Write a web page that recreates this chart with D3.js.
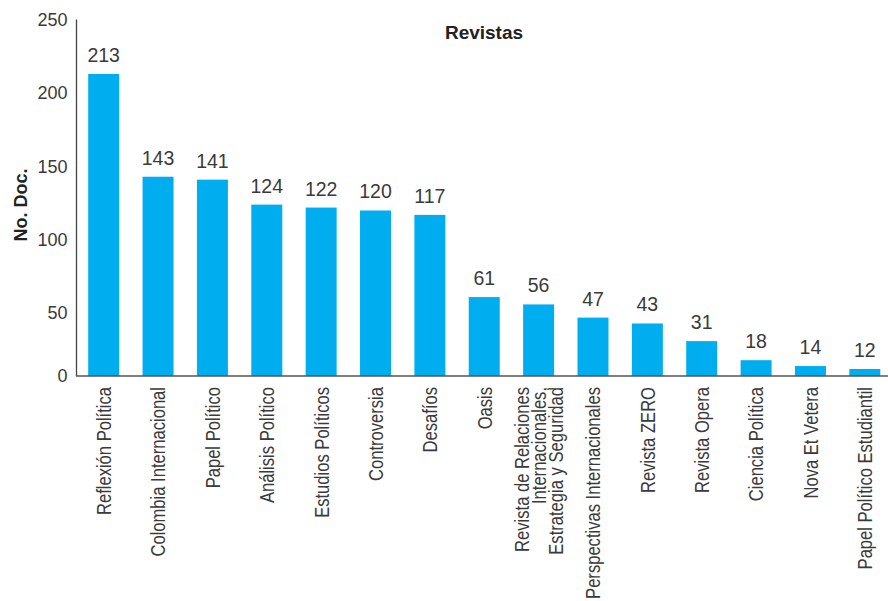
<!DOCTYPE html>
<html><head><meta charset="utf-8">
<script src="https://cdn.jsdelivr.net/npm/d3@7"></script>
<style>
html,body{margin:0;padding:0;background:#fff;}
svg{display:block;}
</style></head>
<body>
<svg id="chart" width="888" height="601"></svg>
<script>
const journals = [
  "Reflexión Política", "Colombia Internacional", "Papel Político", "Análisis Político",
  "Estudios Políticos", "Controversia", "Desafíos", "Oasis",
  "Revista de Relaciones|Internacionales,|Estrategia y Seguridad",
  "Perspectivas Internacionales", "Revista ZERO", "Revista Opera",
  "Ciencia Política", "Nova Et Vetera", "Papel Político Estudiantil"
];
const counts = [213, 143, 141, 124, 122, 120, 117, 61, 56, 47, 43, 31, 18, 14, 12];
const yTicks = [50, 100, 150, 200, 250];
const chartTitle = "Revistas";
const yTitle = "No. Doc.";

(function () {
const svg = d3.select("#chart");
const W = 888, H = 601;
const mLeft = 76.5, mRight = 892, baseline = 376;
const sans = "'Liberation Sans',Arial,Helvetica,sans-serif";
const textCol = "#3a3a3a";

const x = d3.scaleBand().domain(journals).range([mLeft, mRight]).paddingInner(0.43).paddingOuter(0.215);
const y = d3.scaleLinear().domain([0, 250]).range([386.6, 19.7]);

// bars
svg.append("g").selectAll("rect").data(journals).join("rect")
  .attr("x", d => x(d))
  .attr("width", x.bandwidth())
  .attr("y", (d, i) => y(counts[i]))
  .attr("height", (d, i) => baseline - y(counts[i]))
  .attr("fill", "#00AEEF");

// value labels
svg.append("g").selectAll("text").data(journals).join("text")
  .attr("x", d => x(d) + x.bandwidth() / 2)
  .attr("y", (d, i) => y(counts[i]) - 12)
  .attr("text-anchor", "middle")
  .attr("font-family", sans)
  .attr("font-size", 19.5)
  .attr("fill", textCol)
  .text((d, i) => counts[i]);

// y axis
const yAxis = d3.axisLeft(y).tickValues(yTicks).tickSize(0).tickPadding(9);
const gy = svg.append("g").attr("transform", `translate(${mLeft},0)`).call(yAxis);
gy.select(".domain").remove();
gy.selectAll("text").attr("font-family", sans).attr("font-size", 18).attr("fill", textCol);
svg.append("text").attr("x", mLeft - 9).attr("y", baseline).attr("dy", "0.32em")
  .attr("text-anchor", "end").attr("font-family", sans).attr("font-size", 18).attr("fill", textCol).text("0");
svg.append("line").attr("x1", mLeft).attr("x2", mLeft).attr("y1", 19.5).attr("y2", baseline)
  .attr("stroke", "#444").attr("stroke-width", 1.3);
svg.append("line").attr("x1", mLeft - 0.6).attr("x2", W).attr("y1", baseline).attr("y2", baseline)
  .attr("stroke", "#555").attr("stroke-width", 1.5);

// category labels (condensed look via horizontal scaling)
const lab = svg.append("g").selectAll("text").data(journals).join("text")
  .attr("transform", d => `translate(${x(d) + x.bandwidth() / 2},387) rotate(-90) scale(0.79,1)`)
  .attr("text-anchor", "end")
  .attr("font-family", sans)
  .attr("font-size", 21)
  .attr("fill", textCol);
lab.each(function(d) {
  const lines = d.split("|");
  const t = d3.select(this);
  lines.forEach((ln, i) => {
    t.append("tspan").attr("x", 0)
      .attr("y", (i - (lines.length - 1) / 2) * 17)
      .attr("dy", "0.35em").text(ln);
  });
});

// titles
svg.append("text").attr("x", 484).attr("y", 39).attr("text-anchor", "middle")
  .attr("font-family", sans).attr("font-weight", "bold").attr("font-size", 19).attr("fill", "#222").text(chartTitle);
svg.append("text").attr("transform", "translate(27,205) rotate(-90)").attr("text-anchor", "middle")
  .attr("font-family", sans).attr("font-weight", "bold").attr("font-size", 18).attr("fill", "#222").text(yTitle);
})();
</script>
</body></html>
